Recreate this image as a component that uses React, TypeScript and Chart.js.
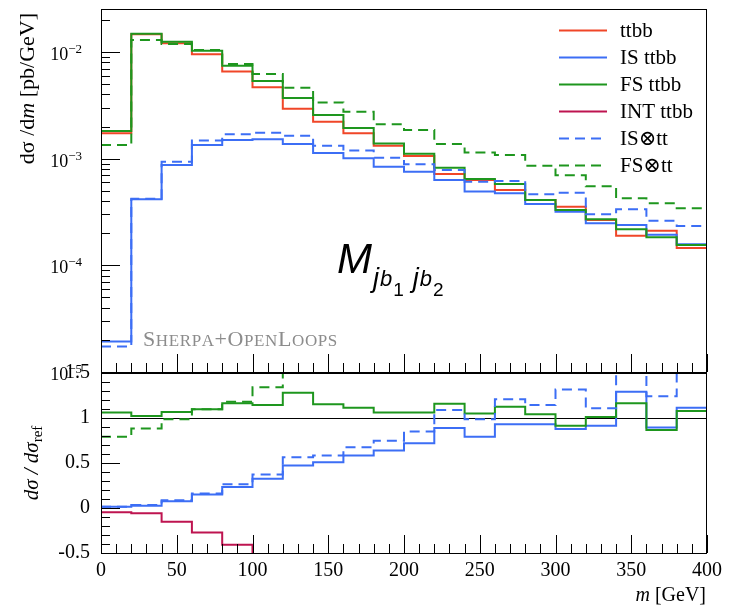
import React, { useEffect, useRef } from 'react';
import { Chart, registerables } from 'chart.js';
Chart.register(...registerables);

// ---------------- data ----------------
const binEdges = [0, 20, 40, 60, 80, 100, 120, 140, 160, 180, 200, 220, 240, 260, 280, 300, 320, 340, 360, 380, 400];
const seriesLabels = ['ttbb', 'IS ttbb', 'FS ttbb', 'INT ttbb', 'IS⊗tt', 'FS⊗tt'];

// dσ/dm [pb/GeV] per 20 GeV bin
const ttbb = [1.73e-3, 1.466e-2, 1.205e-2, 9.51e-3, 6.55e-3, 4.67e-3, 2.93e-3, 2.22e-3, 1.73e-3, 1.32e-3, 1.06e-3, 7.2e-4, 6.3e-4, 5.09e-4, 4.1e-4, 3.55e-4, 2.66e-4, 1.89e-4, 2.11e-4, 1.45e-4];
const isTtbb = [1.93e-5, 4.16e-4, 8.73e-4, 1.34e-3, 1.5e-3, 1.52e-3, 1.37e-3, 1.13e-3, 1.01e-3, 8.41e-4, 7.55e-4, 6.31e-4, 4.91e-4, 4.74e-4, 3.76e-4, 3.18e-4, 2.48e-4, 2.39e-4, 1.93e-4, 1.58e-4];
const fsTtbb = [1.82e-3, 1.486e-2, 1.25e-2, 1.028e-2, 7.45e-3, 5.35e-3, 3.71e-3, 2.57e-3, 1.94e-3, 1.39e-3, 1.11e-3, 8.24e-4, 6.45e-4, 5.8e-4, 4.1e-4, 3.3e-4, 2.7e-4, 2.18e-4, 1.83e-4, 1.55e-4];
const intTtbb = [null, null, null, null, null, null, null, null, null, null, null, null, null, null, null, null, null, null, null, null]; // negative: not shown on log scale
const isTt = [1.73e-5, 4.2e-4, 9.38e-4, 1.48e-3, 1.69e-3, 1.75e-3, 1.64e-3, 1.32e-3, 1.19e-3, 1.02e-3, 8.85e-4, 7.83e-4, 6.08e-4, 6.17e-4, 4.64e-4, 4.8e-4, 3.01e-4, 3.36e-4, 2.62e-4, 2.34e-4];
const fsTt = [1.34e-3, 1.294e-2, 1.19e-2, 1.044e-2, 7.72e-3, 6.22e-3, 4.63e-3, 3.37e-3, 2.76e-3, 2.1e-3, 1.86e-3, 1.37e-3, 1.14e-3, 1.08e-3, 8.6e-4, 7.0e-4, 5.5e-4, 4.26e-4, 3.82e-4, 3.43e-4];

// ratios to ttbb
const ratioIs = [0.013, 0.024, 0.076, 0.15, 0.234, 0.326, 0.473, 0.509, 0.583, 0.638, 0.72, 0.888, 0.792, 0.931, 0.931, 0.877, 0.913, 1.291, 0.894, 1.115];
const ratioFs = [1.06, 1.023, 1.067, 1.097, 1.163, 1.144, 1.28, 1.152, 1.115, 1.06, 1.06, 1.159, 1.049, 1.126, 1.042, 0.913, 1.012, 1.163, 0.866, 1.078];
const ratioInt = [-0.047, -0.059, -0.152, -0.273, -0.409, -0.62, -0.7, -0.75, -0.8, -0.85, -0.9, -0.9, -0.95, -1.0, -1.0, -1.05, -1.1, -1.1, -1.15, -1.2];
const ratioIsTt = [0.013, 0.032, 0.087, 0.161, 0.263, 0.373, 0.564, 0.583, 0.674, 0.748, 0.85, 1.089, 0.987, 1.207, 1.144, 1.317, 1.108, 1.78, 1.243, 1.61];
const ratioFsTt = [0.792, 0.883, 0.987, 1.097, 1.18, 1.343, 1.58, 1.52, 1.6, 1.59, 1.75, 1.9, 1.81, 2.12, 2.1, 1.98, 2.07, 2.25, 1.81, 2.37];

// tick labels
const xTicks = [0, 50, 100, 150, 200, 250, 300, 350, 400];
const mainYTicks = [1e-5, 1e-4, 1e-3, 1e-2];
const ratioYTicks = [-0.5, 0, 0.5, 1, 1.5];

// ---------------- style ----------------
const SERIF = '"Liberation Serif", "DejaVu Serif", serif';
const SANS = '"Liberation Sans", "DejaVu Sans", sans-serif';
const RED = '#f04628';
const BLUE = '#3c6ef5';
const GREEN = '#1e961e';
const CRIMSON = '#be1450';
const colors = [RED, BLUE, GREEN, CRIMSON, BLUE, GREEN];
const dashes = [[], [], [], [], [10, 6], [10, 6]];

const X_MIN = 0, X_MAX = 400;
const LY_MIN = 1e-5, LY_MAX = 0.0253;
const R_MIN = -0.5, R_MAX = 1.5;

function hist(values: (number | null)[]) {
  return binEdges.map((e, i) => ({ x: e, y: values[Math.min(i, values.length - 1)] }));
}

function makeDatasets(series: (number | null)[][]) {
  return series.map((vals, i) => ({
    label: seriesLabels[i],
    data: hist(vals),
    borderColor: colors[i],
    backgroundColor: colors[i],
    borderWidth: 2,
    borderDash: dashes[i],
    stepped: 'before' as const,
    pointRadius: 0,
    fill: false,
    order: 10 - i,
  }));
}

function drawInsideTicks(chart: any, yMajor: number[], yMinor: number[]) {
  const ctx = chart.ctx;
  const { left, right, top, bottom } = chart.chartArea;
  const xs = chart.scales.x, ys = chart.scales.y;
  ctx.save();
  ctx.strokeStyle = '#000';
  ctx.lineWidth = 1;
  ctx.beginPath();
  for (let v = X_MIN; v <= X_MAX; v += 10) {
    const x = Math.round(xs.getPixelForValue(v)) + 0.5;
    const len = v % 50 === 0 ? 18 : 9;
    ctx.moveTo(x, bottom);
    ctx.lineTo(x, bottom - len);
  }
  for (const v of yMajor) {
    const y = Math.round(ys.getPixelForValue(v)) + 0.5;
    ctx.moveTo(left, y);
    ctx.lineTo(left + 19, y);
  }
  for (const v of yMinor) {
    const y = Math.round(ys.getPixelForValue(v)) + 0.5;
    if (y < top || y > bottom) continue;
    ctx.moveTo(left, y);
    ctx.lineTo(left + 9, y);
  }
  ctx.stroke();
  ctx.strokeRect(left + 0.5, top + 0.5, right - left - 1, bottom - top);
  ctx.restore();
}

type Part = { t: string; f: string; dy?: number; dx?: number };
function partsWidth(ctx: CanvasRenderingContext2D, parts: Part[]) {
  let w = 0;
  for (const p of parts) { ctx.font = p.f; w += ctx.measureText(p.t).width + (p.dx || 0); }
  return w;
}
function drawParts(ctx: CanvasRenderingContext2D, parts: Part[], x: number, y: number) {
  for (const p of parts) {
    ctx.font = p.f;
    x += p.dx || 0;
    ctx.fillText(p.t, x, y + (p.dy || 0));
    x += ctx.measureText(p.t).width;
  }
  return x;
}

const mainDecor = {
  id: 'mainDecor',
  afterDatasetsDraw(chart: any) {
    const ctx: CanvasRenderingContext2D = chart.ctx;
    const ys = chart.scales.y;
    const minor: number[] = [];
    for (const d of mainYTicks) for (let m = 2; m <= 9; m++) if (d * m <= LY_MAX) minor.push(d * m);
    drawInsideTicks(chart, mainYTicks, minor);

    ctx.save();
    ctx.fillStyle = '#000';
    ctx.textBaseline = 'alphabetic';
    ctx.textAlign = 'left';
    // y tick labels 10^n
    for (const v of mainYTicks) {
      const y = ys.getPixelForValue(v);
      const exp = '−' + String(Math.round(-Math.log10(v)));
      ctx.font = `13px ${SERIF}`;
      const ew = ctx.measureText(exp).width;
      ctx.font = `18px ${SERIF}`;
      const bw = ctx.measureText('10').width;
      const xr = 82;
      ctx.fillText('10', xr - ew - bw, y + 8);
      ctx.font = `13px ${SERIF}`;
      ctx.fillText(exp, xr - ew, y + 1);
    }
    // y title
    const tparts: Part[] = [
      { t: 'dσ /d', f: `22px ${SERIF}` },
      { t: 'm', f: `italic 22px ${SERIF}` },
      { t: ' [pb/GeV]', f: `22px ${SERIF}` },
    ];
    ctx.save();
    ctx.translate(34, 13);
    ctx.rotate(-Math.PI / 2);
    const tw = partsWidth(ctx, tparts);
    drawParts(ctx, tparts, -tw, 0);
    ctx.restore();

    // legend
    chart.data.datasets.forEach((ds: any, i: number) => {
      const y = 30 + i * 27;
      ctx.save();
      ctx.strokeStyle = ds.borderColor;
      ctx.lineWidth = 2;
      ctx.setLineDash(ds.borderDash || []);
      ctx.beginPath();
      ctx.moveTo(559, y + 0.5);
      ctx.lineTo(607, y + 0.5);
      ctx.stroke();
      ctx.restore();
      ctx.font = `21px ${SERIF}`;
      ctx.fillStyle = '#000';
      ctx.fillText(ds.label, 620, y + 7);
    });

    // observable label
    let x = 337;
    ctx.font = `italic 42px ${SANS}`;
    ctx.fillText('M', x, 273);
    x += ctx.measureText('M').width + 1;
    const sub = (n: string) => {
      x = drawParts(ctx, [
        { t: 'j', f: `italic 27px ${SANS}`, dy: 0 },
        { t: 'b', f: `italic 22px ${SANS}`, dy: -1, dx: 1 },
        { t: n, f: `19px ${SANS}`, dy: 9, dx: 1 },
      ], x, 287);
    };
    sub('1');
    x += 9;
    sub('2');

    // generator label in small caps
    ctx.fillStyle = '#8c8c8c';
    let sx = 143;
    for (const ch of 'Sherpa+OpenLoops') {
      const up = ch === ch.toUpperCase();
      ctx.font = `${up ? 22 : 17}px ${SERIF}`;
      const c = ch.toUpperCase();
      ctx.fillText(c, sx, 346);
      sx += ctx.measureText(c).width + 0.6;
    }
    ctx.restore();
  },
};

const ratioDecor = {
  id: 'ratioDecor',
  beforeDatasetsDraw(chart: any) {
    const ctx: CanvasRenderingContext2D = chart.ctx;
    const { left, right } = chart.chartArea;
    const y = Math.round(chart.scales.y.getPixelForValue(1)) + 0.5;
    ctx.save();
    ctx.strokeStyle = '#000';
    ctx.lineWidth = 1;
    ctx.beginPath();
    ctx.moveTo(left, y);
    ctx.lineTo(right, y);
    ctx.stroke();
    ctx.restore();
  },
  afterDatasetsDraw(chart: any) {
    const ctx: CanvasRenderingContext2D = chart.ctx;
    const minor: number[] = [];
    for (let k = -4; k <= 14; k++) if (k % 5 !== 0) minor.push(k / 10);
    drawInsideTicks(chart, ratioYTicks, minor);
    const { top, bottom } = chart.chartArea;
    ctx.save();
    ctx.fillStyle = '#000';
    ctx.textBaseline = 'alphabetic';
    // y title
    const parts: Part[] = [
      { t: 'dσ / dσ', f: `italic 21px ${SERIF}` },
      { t: 'ref', f: `15px ${SERIF}`, dy: 4 },
    ];
    ctx.save();
    ctx.translate(38, (top + bottom) / 2);
    ctx.rotate(-Math.PI / 2);
    const w = partsWidth(ctx, parts);
    drawParts(ctx, parts, -w / 2, 0);
    ctx.restore();
    // x title
    const xparts: Part[] = [
      { t: 'm', f: `italic 20px ${SERIF}` },
      { t: ' [GeV]', f: `20px ${SERIF}` },
    ];
    const xw = partsWidth(ctx, xparts);
    drawParts(ctx, xparts, 706 - xw, 251);
    ctx.restore();
  },
};

export default function App() {
  const mainRef = useRef<HTMLCanvasElement>(null);
  const ratioRef = useRef<HTMLCanvasElement>(null);

  useEffect(() => {
    document.body.style.margin = '0';
    const main = new Chart(mainRef.current!, {
      type: 'line',
      data: { datasets: makeDatasets([ttbb, isTtbb, fsTtbb, intTtbb, isTt, fsTt]) as any },
      options: {
        animation: false,
        responsive: false,
        layout: { padding: { top: 9, right: 26, bottom: 20, left: 0 } },
        plugins: { legend: { display: false }, tooltip: { enabled: false } },
        scales: {
          x: { type: 'linear', min: X_MIN, max: X_MAX, display: false },
          y: {
            type: 'logarithmic', min: LY_MIN, max: LY_MAX,
            ticks: { display: false },
            grid: { display: false, drawTicks: false },
            border: { display: false },
            afterFit: (s: any) => { s.width = 101; },
          },
        },
      } as any,
      plugins: [mainDecor],
    });

    const ratio = new Chart(ratioRef.current!, {
      type: 'line',
      data: { datasets: makeDatasets([[], ratioIs, ratioFs, ratioInt, ratioIsTt, ratioFsTt]).slice(1) as any },
      options: {
        animation: false,
        responsive: false,
        layout: { padding: { top: 22, right: 26, bottom: 0, left: 0 } },
        plugins: { legend: { display: false }, tooltip: { enabled: false } },
        scales: {
          x: {
            type: 'linear', min: X_MIN, max: X_MAX,
            afterBuildTicks: (s: any) => { s.ticks = xTicks.map((v) => ({ value: v })); },
            ticks: { autoSkip: false, maxRotation: 0, padding: 6, color: '#000', font: { family: SERIF, size: 20 }, callback: (v: any) => String(v) },
            grid: { display: false, drawTicks: false },
            border: { display: false },
            afterFit: (s: any) => { s.height = 55; },
          },
          y: {
            type: 'linear', min: R_MIN, max: R_MAX,
            afterBuildTicks: (s: any) => { s.ticks = ratioYTicks.map((v) => ({ value: v })); },
            ticks: { autoSkip: false, padding: 11, color: '#000', font: { family: SERIF, size: 20 }, callback: (v: any) => String(v) },
            grid: { display: false, drawTicks: false },
            border: { display: false },
            afterFit: (s: any) => { s.width = 101; },
          },
        },
      } as any,
      plugins: [ratioDecor],
    });
    return () => { main.destroy(); ratio.destroy(); };
  }, []);

  return (
    <div style={{ position: 'relative', width: 733, height: 608, background: '#fff', overflow: 'hidden' }}>
      <canvas ref={mainRef} width={733} height={392} style={{ position: 'absolute', left: 0, top: 0 }} />
      <canvas ref={ratioRef} width={733} height={258} style={{ position: 'absolute', left: 0, top: 350 }} />
    </div>
  );
}
